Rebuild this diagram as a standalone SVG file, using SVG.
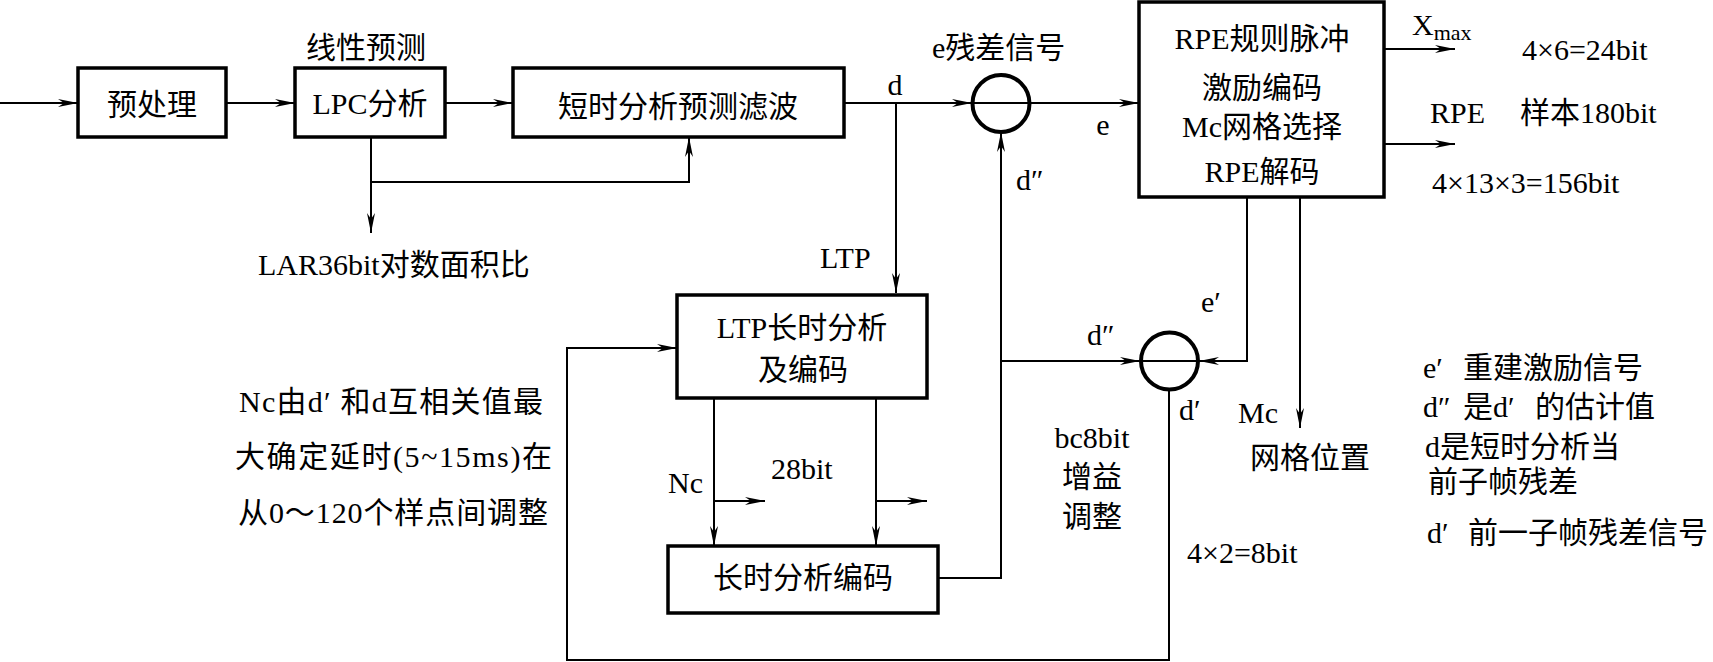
<svg xmlns="http://www.w3.org/2000/svg" width="1713" height="662" viewBox="0 0 1713 662">
<defs>
<marker id="ah" viewBox="0 0 20 8" refX="20" refY="4" markerWidth="20" markerHeight="8" markerUnits="userSpaceOnUse" orient="auto">
<path d="M0,0 L20,4 L0,8 L6,4 z" fill="#000"/>
</marker>
<style>
.box{fill:#fff;stroke:#000;stroke-width:3.5}
.sum{fill:none;stroke:#000;stroke-width:4}
.c{fill:none;stroke:#000;stroke-width:2}
.a{fill:none;stroke:#000;stroke-width:2;marker-end:url(#ah)}
text{font-family:"Liberation Serif","Noto Sans CJK SC",serif;font-size:30px;fill:#000}
.l{font-family:"Liberation Serif","DejaVu Serif",serif}
.m{text-anchor:middle}
.sub{font-size:22px}
</style>
</defs>
<rect width="1713" height="662" fill="#fff"/>
<g id="connectors">
<path class="a" d="M0,103 H78"/>
<path class="a" d="M226,103 H295"/>
<path class="a" d="M445,103 H513"/>
<path class="a" d="M371,137 V233"/>
<path class="a" d="M371,182 H689 V137"/>
<path class="a" d="M844,103 H972"/>
<path class="a" d="M972,103 H1139"/>
<path class="a" d="M896,103 V293"/>
<path class="a" d="M938,578 H1001 V132"/>
<path class="a" d="M1001,361 H1140"/>
<path class="c" d="M1140,361 H1199"/>
<path class="a" d="M1247,197 V361 H1199"/>
<path class="a" d="M1300,197 V428"/>
<path class="a" d="M1384,49 H1455"/>
<path class="a" d="M1384,144 H1455"/>
<path class="a" d="M1169,389 V660 H567 V348 H677"/>
<path class="a" d="M714,398 V546"/>
<path class="a" d="M876,398 V546"/>
<path class="a" d="M714,501 H765"/>
<path class="a" d="M876,501 H927"/>
</g>
<g id="preprocess">
<rect class="box" x="78" y="68" width="148" height="69"/>
<text class="m" x="152" y="115">预处理</text>
</g>
<g id="lpc">
<text class="m" x="366" y="58">线性预测</text>
<rect class="box" x="295" y="68" width="150" height="69"/>
<text class="m" x="370" y="114">LPC分析</text>
</g>
<g id="stfilter">
<rect class="box" x="513" y="68" width="331" height="69"/>
<text class="m" x="678" y="117">短时分析预测滤波</text>
</g>
<g id="lar">
<text x="258" y="275">LAR36bit对数面积比</text>
</g>
<g id="sum1">
<circle class="sum" cx="1001" cy="103.5" r="28.5"/>
<text x="932" y="58">e残差信号</text>
</g>
<g id="rpe">
<rect class="box" x="1139" y="2" width="245" height="195"/>
<text class="m" x="1262" y="49">RPE规则脉冲</text>
<text class="m" x="1262" y="98">激励编码</text>
<text class="m" x="1262" y="137">Mc网格选择</text>
<text class="m" x="1262" y="182">RPE解码</text>
</g>
<g id="ltp">
<rect class="box" x="677" y="295" width="250" height="103"/>
<text class="m" x="802" y="338">LTP长时分析</text>
<text class="m" x="803" y="380">及编码</text>
</g>
<g id="ltcode">
<rect class="box" x="668" y="546" width="270" height="67"/>
<text class="m" x="803" y="588">长时分析编码</text>
</g>
<g id="sum2">
<circle class="sum" cx="1169.5" cy="361" r="28.5"/>
</g>
<g id="labels">
<text class="m" x="895" y="95">d</text>
<text class="m" x="1103" y="135">e</text>
<text x="1016" y="190">d″</text>
<text x="820" y="268">LTP</text>
<text x="1412" y="35">X<tspan class="sub" dy="5">max</tspan></text>
<text x="1522" y="60">4×6=24bit</text>
<text x="1430" y="123">RPE</text>
<text x="1520" y="123">样本180bit</text>
<text x="1432" y="193">4×13×3=156bit</text>
<text x="668" y="493">Nc</text>
<text x="771" y="479">28bit</text>
<text x="1087" y="345">d″</text>
<text x="1201" y="312">e′</text>
<text x="1179" y="420">d′</text>
<text x="1238" y="423">Mc</text>
<text x="1250" y="468">网格位置</text>
<text class="m" x="1092" y="448">bc8bit</text>
<text class="m" x="1092" y="487">增益</text>
<text class="m" x="1092" y="527">调整</text>
<text x="1187" y="563">4×2=8bit</text>
</g>
<g id="notes-left">
<text x="239" y="412" textLength="304" lengthAdjust="spacing"><tspan class="l">Nc</tspan>由<tspan class="l">d′ </tspan>和<tspan class="l">d</tspan>互相关值最</text>
<text x="235" y="467" textLength="317" lengthAdjust="spacing">大确定延时<tspan class="l">(5~15ms)</tspan>在</text>
<text x="238" y="523" textLength="310" lengthAdjust="spacing">从<tspan class="l">0</tspan>～<tspan class="l">120</tspan>个样点间调整</text>
</g>
<g id="notes-right">
<text x="1423" y="378"><tspan class="l">e′</tspan><tspan x="1463">重建激励信号</tspan></text>
<text x="1423" y="417"><tspan class="l">d″</tspan><tspan x="1463">是</tspan><tspan class="l">d′</tspan><tspan x="1535">的估计值</tspan></text>
<text x="1425" y="457"><tspan class="l">d</tspan>是短时分析当</text>
<text x="1428" y="492">前子帧残差</text>
<text x="1427" y="543"><tspan class="l">d′</tspan><tspan x="1468">前一子帧残差信号</tspan></text>
</g>
</svg>
